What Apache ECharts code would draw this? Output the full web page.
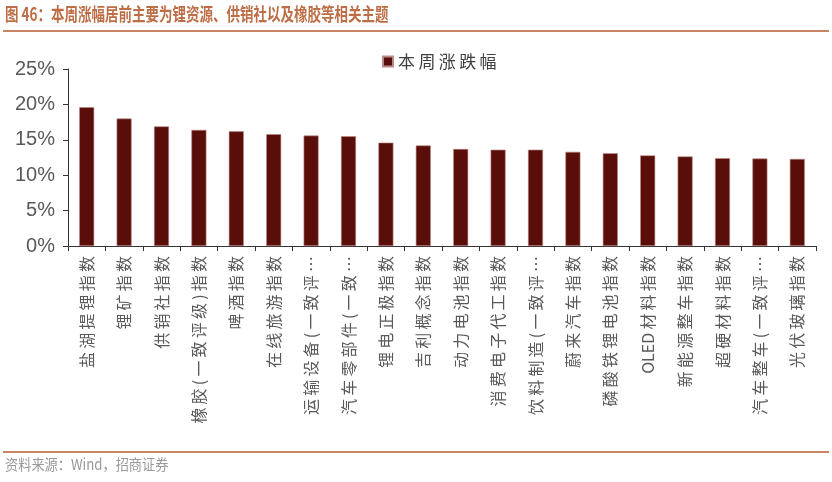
<!DOCTYPE html>
<html><head><meta charset="utf-8">
<script src="https://cdn.jsdelivr.net/npm/echarts@6/dist/echarts.min.js"></script>
<style>html,body{margin:0;padding:0;background:#fff}#c{width:832px;height:482px}</style>
</head><body><div id="c"></div>
<script>
var titleText = '图 46：本周涨幅居前主要为锂资源、供销社以及橡胶等相关主题';
var sourceText = '资料来源：Wind，招商证券';
var seriesName = '本周涨跌幅';
var categories = ['盐湖提锂指数','锂矿指数','供销社指数','橡胶(一致评级)指数','啤酒指数','在线旅游指数','运输设备(一致评…','汽车零部件(一致…','锂电正极指数','吉利概念指数','动力电池指数','消费电子代工指数','饮料制造(一致评…','蔚来汽车指数','磷酸铁锂电池指数','OLED材料指数','新能源整车指数','超硬材料指数','汽车整车(一致评…','光伏玻璃指数'];
var values = [19.6,18.0,16.9,16.4,16.2,15.8,15.6,15.5,14.6,14.2,13.7,13.6,13.6,13.3,13.1,12.8,12.65,12.4,12.35,12.3];
var yTicks = [0,5,10,15,20,25];

function spaced(s){
  var out = '';
  for (var i = 0; i < s.length; i++) {
    out += s[i];
    if (i < s.length - 1) {
      var a = s.charCodeAt(i), b = s.charCodeAt(i+1);
      if (a > 0x2000 || b > 0x2000) out += '\u2009';
    }
  }
  return out;
}

var chart = echarts.init(document.getElementById('c'), null, {renderer:'canvas'});
chart.setOption({
  animation:false,
  backgroundColor:'#fff',
  graphic:[
    {type:'text', left:5, top:5, style:{text:titleText, font:'bold 18px "Noto Sans CJK SC"', fill:'#BD6E46'}, scaleX:0.75},
    {type:'rect', shape:{x:3,y:30,width:826,height:2}, style:{fill:'#C98663'}},
    {type:'rect', shape:{x:3,y:451,width:826,height:2}, style:{fill:'#C98663'}},
    {type:'text', left:5, top:457, style:{text:sourceText, font:'15px "Noto Sans CJK SC"', fill:'#999999'}, scaleX:0.88}
  ],
  legend:{
    data:[seriesName], left:377, top:48, icon:'rect', itemWidth:10, itemHeight:10, itemGap:6,
    formatter:function(n){return spaced(n);},
    textStyle:{fontFamily:'Noto Sans CJK SC', fontSize:17, color:'#404040'}
  },
  grid:{left:68, right:16, top:69, bottom:236, containLabel:false},
  xAxis:{
    type:'category', data:categories,
    axisLine:{lineStyle:{color:'#333', width:1}},
    axisTick:{show:true, length:5, lineStyle:{color:'#333'}},
    axisLabel:{
      rotate:90, interval:0, margin:10, color:'#595959',
      fontFamily:'Noto Sans CJK SC', fontSize:16,
      formatter:function(v){return spaced(v);}
    }
  },
  yAxis:{
    type:'value', min:0, max:25, interval:5,
    splitLine:{show:false},
    axisLine:{show:true, lineStyle:{color:'#333'}},
    axisTick:{show:true, length:5, lineStyle:{color:'#333'}},
    axisLabel:{color:'#595959', fontFamily:'Liberation Sans', fontSize:20, margin:13,
      formatter:function(v){return yTicks.indexOf(v)>=0 ? v+'%' : '';}}
  },
  series:[{
    name:seriesName, type:'bar', data:values, barWidth:15,
    itemStyle:{color:'#5A0E09', borderColor:'#B88A88', borderWidth:0.6}
  }]
});
</script></body></html>
